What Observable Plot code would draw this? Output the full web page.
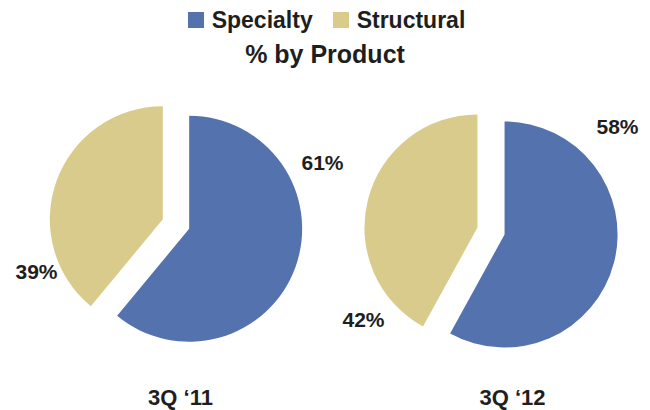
<!DOCTYPE html>
<html><head><meta charset="utf-8">
<script src="https://cdn.jsdelivr.net/npm/d3@7"></script>
<script src="https://cdn.jsdelivr.net/npm/@observablehq/plot@0.6"></script>
<style>
body{margin:0;background:#fff;font-family:"Liberation Sans",Arial,sans-serif;width:650px;}
#legend{height:40px;overflow:hidden;}
.lg-swatches{justify-content:center;font-family:"Liberation Sans",Arial,sans-serif !important;font-size:23px !important;font-weight:bold;color:#1e1e1e;margin:0 !important;min-height:40px !important;padding-left:3px;}
.lg-swatch{margin:0 10px !important;}
.lg-swatch > svg{margin-right:8px !important;}
#title{height:30px;line-height:30px;text-align:center;font:bold 25px "Liberation Sans",Arial,sans-serif;color:#1e1e1e;}
#chart svg{display:block;}
</style></head><body>
<div id="legend"></div>
<div id="title">% by Product</div>
<div id="chart"></div>
<script>
// ---- data ----
const periods = ["3Q \u201811", "3Q \u201812"];
const products = ["Specialty", "Structural"];
const specialty = [61, 58];
const structural = [39, 42];
const colors = ["#5472ae", "#d9cb8b"];

// ---- styling / layout ----
const W = 650, H = 340;
const pieCY = [154, 161];
const R = 113, EXPLODE = 14;
const TXT = "#1e1e1e";
const FONT = "Liberation Sans, Arial, sans-serif";

const color = Plot.scale({color: {domain: products, range: colors}});

document.getElementById("legend").append(
  Plot.legend({color: {domain: products, range: colors}, legend: "swatches", swatchSize: 16, className: "lg"})
);

const slices = periods.flatMap((p, i) => [
  {period: p, product: products[0], value: specialty[i]},
  {period: p, product: products[1], value: structural[i]}
]);

const arc = d3.arc().innerRadius(0).outerRadius(R);
const pieMark = (index, scales) => {
  const g = d3.create("svg:g");
  periods.forEach((p, i) => {
    const cx = scales.x(p), cy = pieCY[i];
    const rows = slices.filter(d => d.period === p);
    const arcs = d3.pie().sort(null).value(d => d.value)(rows);
    arcs.forEach(a => {
      const mid = (a.startAngle + a.endAngle) / 2;
      g.append("path")
        .attr("d", arc(a))
        .attr("fill", color.apply(a.data.product))
        .attr("transform", `translate(${cx + Math.sin(mid) * EXPLODE},${cy - Math.cos(mid) * EXPLODE})`);
    });
  });
  return g.node();
};

const txt = {frameAnchor: "top", lineAnchor: "middle", fontWeight: "bold", fill: TXT, fontFamily: FONT};

const pct = (period, value, dx, dy) =>
  Plot.text([{period, value}], {x: "period", text: d => `${d.value}%`, dx, dy, fontSize: 21, ...txt});

const chart = Plot.plot({
  width: W, height: H,
  margin: 0,
  x: {type: "point", domain: periods, range: [176, 491], padding: 0, axis: null},
  marks: [
    pieMark,
    pct(periods[0], specialty[0], 146, pieCY[0] - 61),
    pct(periods[0], structural[0], -140, pieCY[0] + 48),
    pct(periods[1], specialty[1], 126, pieCY[1] - 104),
    pct(periods[1], structural[1], -128, pieCY[1] + 89),
    Plot.text([periods[0]], {x: d => d, text: d => d, dx: 4, dy: 327, fontSize: 22, ...txt}),
    Plot.text([periods[1]], {x: d => d, text: d => d, dx: 21, dy: 327, fontSize: 22, ...txt})
  ]
});
document.getElementById("chart").append(chart);
</script>
</body></html>
